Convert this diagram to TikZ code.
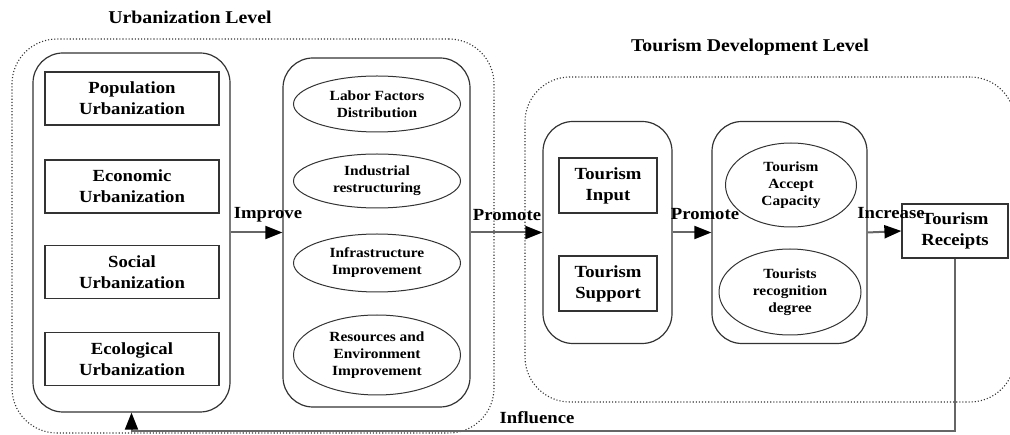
\documentclass[tikz,border=0pt]{standalone}
\usepackage{fontspec}
\setmainfont{Liberation Serif}[FakeStretch=1.1]
\usetikzlibrary{arrows.meta,shapes.geometric}

\begin{document}
\begin{tikzpicture}[x=1pt,y=-1pt,
  box/.style={draw=black!80,line width=1.2pt,align=center,inner sep=0pt,font=\fontsize{17}{21}\selectfont\bfseries},
  oval/.style={ellipse,draw=black!80,line width=1pt,align=center,inner sep=0pt,font=\fontsize{14}{17}\selectfont\bfseries},
  group/.style={draw=black!80,line width=1.2pt,rounded corners=30pt,inner sep=0pt},
  level/.style={draw=black!80,dotted,line width=1.1pt,rounded corners=45pt,inner sep=0pt},
  flow/.style={draw=black!60,line width=2pt,-{Triangle[length=17pt,width=13pt,color=black]}},
  lab/.style={font=\fontsize{17}{20}\selectfont\bfseries,inner sep=0pt},
  title/.style={font=\fontsize{18}{20}\selectfont\bfseries,inner sep=0pt}]
\useasboundingbox (0,0) rectangle (1010,435);
\clip (0,0) rectangle (1010,435);

% urbanization level
\node[title] (urbTitle) at (190,17) {Urbanization Level};
\node[level,minimum width=482pt,minimum height=394pt] (urbOuter) at (253,236) {};
  \node[group,minimum width=197pt,minimum height=359pt] (urbLeft) at (131.5,232.5) {};
  \node[group,minimum width=187pt,minimum height=349pt] (urbMid) at (376.5,232.5) {};

    \node[box,minimum width=174pt,minimum height=53pt] (popUrb) at (132,98.5) {Population\\Urbanization};
    \node[box,minimum width=174pt,minimum height=53pt] (ecoUrb) at (132,186.5) {Economic\\Urbanization};
    \node[box,minimum width=174pt,minimum height=53pt] (socUrb) at (132,272) {Social\\Urbanization};
    \node[box,minimum width=174pt,minimum height=53pt] (ecolUrb) at (132,359) {Ecological\\Urbanization};

    \node[oval,minimum width=167pt,minimum height=56pt] (labor) at (377,104) {Labor Factors\\Distribution};
    \node[oval,minimum width=167pt,minimum height=54pt] (industry) at (377,181) {Industrial\\restructuring};
    \node[oval,minimum width=167pt,minimum height=58pt] (infra) at (377,263) {Infrastructure\\Improvement};
    \node[oval,minimum width=167pt,minimum height=80pt] (resource) at (377,355) {Resources and\\Environment\\Improvement};

% tourism development level
\node[title] (tourTitle) at (750,47) {Tourism Development Level};
\node[level,minimum width=490pt,minimum height=325pt] (tourOuter) at (770,239.5) {};
  \node[group,minimum width=129pt,minimum height=222pt] (tourLeft) at (607.5,232.5) {};
  \node[group,minimum width=155pt,minimum height=222pt] (tourRight) at (789.5,232.5) {};

    \node[box,minimum width=98pt,minimum height=55pt] (tourInput) at (608,185.5) {Tourism\\Input};
    \node[box,minimum width=98pt,minimum height=55pt] (tourSupport) at (608,283.5) {Tourism\\Support};

    \node[oval,minimum width=131pt,minimum height=84pt] (accept) at (791,185) {Tourism\\Accept\\Capacity};
    \node[oval,minimum width=142pt,minimum height=86pt] (recog) at (790,292) {Tourists\\recognition\\degree};

\node[box,fill=white,minimum width=106pt,minimum height=54pt] (receipts) at (955,231) {Tourism\\Receipts};

% connectors
\draw[flow] (urbLeft.east) -- (urbMid.west);
\draw[flow] (urbMid.east) -- (tourLeft.west);
\draw[flow] (tourLeft.east) -- (tourRight.west);
\draw[flow] (tourRight.east) -- (receipts.west);
\coordinate (inflCorner) at (540,431);
\draw[flow] (receipts.south) |- (inflCorner) -| (urbLeft.south);

\node[lab] (improve) at (268,215) {Improve};
\node[lab] (promoteA) at (507,215) {Promote};
\node[lab] (promoteB) at (705,214) {Promote};
\node[lab] (increase) at (891,213) {Increase};
\node[lab] (influence) at (537,418) {Influence};
\end{tikzpicture}
\end{document}
